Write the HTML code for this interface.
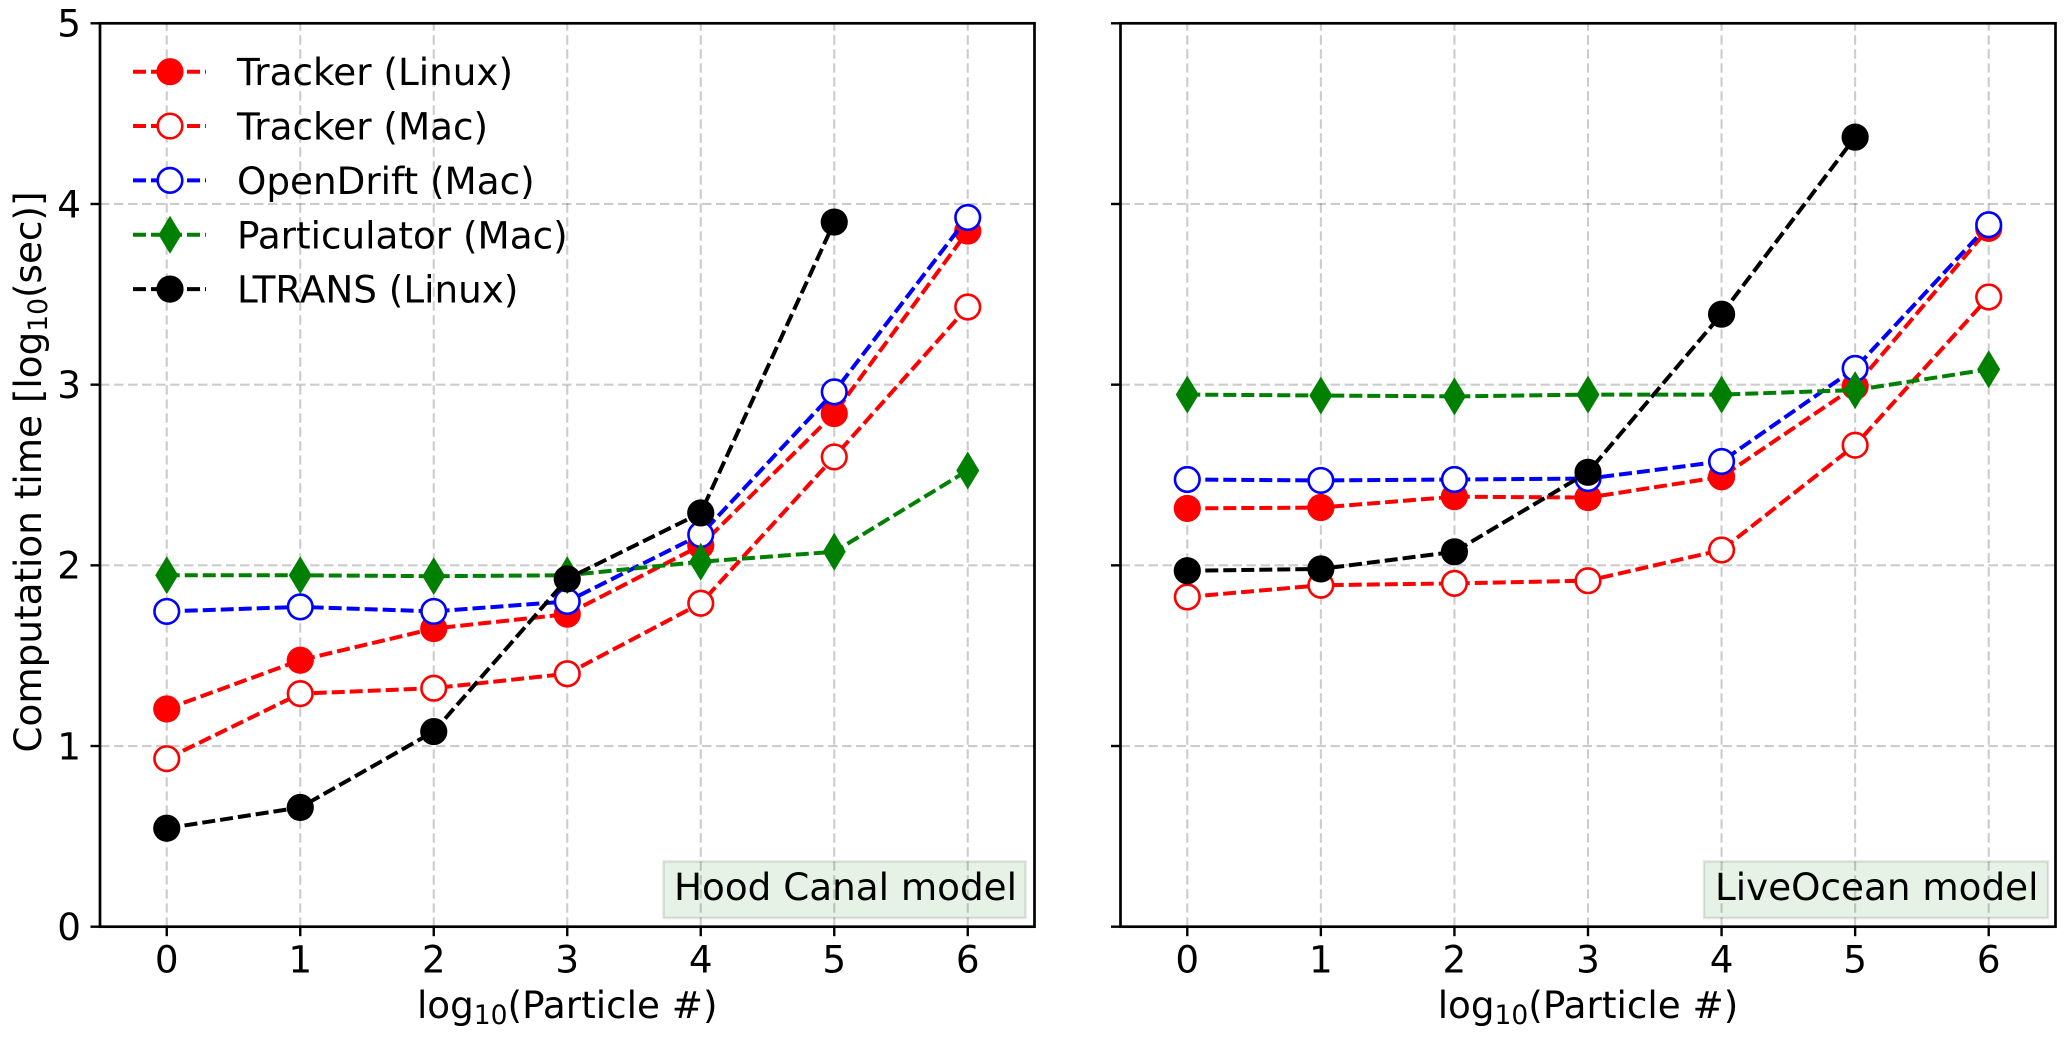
<!DOCTYPE html>
<html><head><meta charset="utf-8"><title>Computation time chart</title>
<style>
html,body{margin:0;padding:0;background:#fff}
svg{display:block}
text{font-family:"DejaVu Sans","Liberation Sans",sans-serif;fill:#000}
</style></head>
<body>
<svg id="chart" xmlns="http://www.w3.org/2000/svg" width="2067" height="1037" viewBox="0 0 2067 1037"></svg>
<script>
const xTicks = [0, 1, 2, 3, 4, 5, 6];
const yTicks = [0, 1, 2, 3, 4, 5];
const seriesNames = ['Tracker (Linux)', 'Tracker (Mac)', 'OpenDrift (Mac)', 'Particulator (Mac)', 'LTRANS (Linux)'];
const seriesKeys = ['tracker-linux', 'tracker-mac', 'opendrift-mac', 'particulator-mac', 'ltrans-linux'];
const seriesColors = ['#ff0000', '#ff0000', '#0000ff', '#008000', '#000000'];
const seriesMarkers = ['filled', 'open', 'open', 'diamond', 'filled'];
const panelTitles = ['Hood Canal model', 'LiveOcean model'];
const hoodTrackerLinux = [1.205, 1.475, 1.65, 1.73, 2.11, 2.84, 3.85];
const hoodTrackerMac = [0.93, 1.29, 1.32, 1.40, 1.79, 2.60, 3.43];
const hoodOpenDrift = [1.745, 1.77, 1.745, 1.80, 2.17, 2.96, 3.925];
const hoodParticulator = [1.945, 1.945, 1.94, 1.945, 2.02, 2.075, 2.525];
const hoodLtrans = [0.545, 0.66, 1.08, 1.925, 2.29, 3.90];
const oceanTrackerLinux = [2.315, 2.32, 2.38, 2.375, 2.49, 2.99, 3.865];
const oceanTrackerMac = [1.825, 1.89, 1.90, 1.915, 2.085, 2.665, 3.485];
const oceanOpenDrift = [2.475, 2.47, 2.475, 2.48, 2.575, 3.09, 3.885];
const oceanParticulator = [2.945, 2.94, 2.935, 2.945, 2.945, 2.97, 3.085];
const oceanLtrans = [1.97, 1.98, 2.075, 2.515, 3.39, 4.37];

const hoodSeries = [hoodTrackerLinux, hoodTrackerMac, hoodOpenDrift, hoodParticulator, hoodLtrans];
const oceanSeries = [oceanTrackerLinux, oceanTrackerMac, oceanOpenDrift, oceanParticulator, oceanLtrans];

const NS = 'http://www.w3.org/2000/svg';
const svg = document.getElementById('chart');
const FS = 37.3;
const SUB = 26.5;
const TOP = 23.3, BOTTOM = 926.7;
const LW = 4;
const DASH = '13 5';

function el(parent, tag, attrs, txt) {
  const e = document.createElementNS(NS, tag);
  for (const k in attrs) e.setAttribute(k, attrs[k]);
  if (txt !== undefined) e.textContent = txt;
  parent.appendChild(e);
  return e;
}
function yScale(v) { return BOTTOM - (v - 0) * (BOTTOM - TOP) / 5; }

function drawMarker(g, kind, color, cx, cy) {
  let m;
  if (kind === 'diamond') {
    const pts = [[cx, cy - 19], [cx + 11.5, cy], [cx, cy + 19], [cx - 11.5, cy]];
    m = el(g, 'polygon', { points: pts.map(p => p.join(',')).join(' '), fill: color });
  } else if (kind === 'open') {
    m = el(g, 'circle', { cx: cx, cy: cy, r: 12.3, fill: '#fff', stroke: color, 'stroke-width': 2.6 });
  } else {
    m = el(g, 'circle', { cx: cx, cy: cy, r: 13.6, fill: color });
  }
  return m;
}

function drawPanel(idx, left, right, seriesData, showY, box) {
  const panel = el(svg, 'g', {});
  
  
  const xScale = v => left + (v + 0.5) * (right - left) / 7;

  // grid
  const grid = el(panel, 'g', { stroke: '#000', 'stroke-opacity': 0.2, 'stroke-width': 2.1, 'stroke-dasharray': '9.5 4.5', fill: 'none' });
  
  
  xTicks.forEach(t => {
    el(grid, 'line', { x1: xScale(t), x2: xScale(t), y1: BOTTOM, y2: TOP });
  });
  yTicks.forEach(t => {
    el(grid, 'line', { x1: left, x2: right, y1: yScale(t), y2: yScale(t) });
  });

  // series
  seriesData.forEach((vals, s) => {
    const g = el(panel, 'g', {});
    
    
    const pts = vals.map((v, i) => xScale(xTicks[i]) + ',' + yScale(v)).join(' ');
    el(g, 'polyline', { points: pts, fill: 'none', stroke: seriesColors[s], 'stroke-width': LW, 'stroke-dasharray': DASH, 'stroke-linejoin': 'round' });
    vals.forEach((v, i) => {
      const m = drawMarker(g, seriesMarkers[s], seriesColors[s], xScale(xTicks[i]), yScale(v));
      
      
    });
  });

  // annotation box
  const boxG = el(panel, 'g', {});
  
  
  el(boxG, 'rect', { x: box.x, y: 861.5, width: box.w, height: 56.5, fill: '#008000', 'fill-opacity': 0.1, stroke: '#000', 'stroke-opacity': 0.1, 'stroke-width': 2.6 });
  el(boxG, 'text', { x: box.tx, y: 900, 'font-size': FS }, panelTitles[idx]);

  // spines
  const sp = el(panel, 'rect', { x: left, y: TOP, width: right - left, height: BOTTOM - TOP, fill: 'none', stroke: '#000', 'stroke-width': 2.7 });
  
  

  // ticks and tick labels
  xTicks.forEach(t => {
    const x = xScale(t);
    const tk = el(panel, 'line', { x1: x, x2: x, y1: BOTTOM, y2: BOTTOM + 9.5, stroke: '#000', 'stroke-width': 2.4 });
    
    
    const lb = el(panel, 'text', { x: x, y: 972.5, 'font-size': FS, 'text-anchor': 'middle' }, String(t));
    
    
  });
  yTicks.forEach(t => {
    const y = yScale(t);
    const tk = el(panel, 'line', { x1: left - 9.5, x2: left, y1: y, y2: y, stroke: '#000', 'stroke-width': 2.4 });
    
    
    if (showY) {
      const lb = el(panel, 'text', { x: left - 19, y: y + 13.4, 'font-size': FS, 'text-anchor': 'end' }, String(t));
      
      
    }
  });

  // x axis title
  const xt = el(panel, 'text', { x: (left + right) / 2, y: 1018, 'font-size': FS, 'text-anchor': 'middle' });
  
  
  el(xt, 'tspan', {}, 'log');
  el(xt, 'tspan', { 'font-size': SUB, dy: 6 }, '10');
  el(xt, 'tspan', { dy: -6 }, '(Particle #)');
}

drawPanel(0, 100, 1034.5, hoodSeries, true, { x: 663.5, w: 362, tx: 674 });
drawPanel(1, 1120.5, 2055.5, oceanSeries, false, { x: 1704, w: 344, tx: 1715 });

// y axis title
const yt = el(svg, 'text', { transform: 'translate(41,472) rotate(-90)', 'font-size': FS, 'text-anchor': 'middle' });


el(yt, 'tspan', {}, 'Computation time [log');
el(yt, 'tspan', { 'font-size': SUB, dy: 6 }, '10');
el(yt, 'tspan', { dy: -6 }, '(sec)]');

// legend
const legend = el(svg, 'g', {});


seriesNames.forEach((name, s) => {
  const y = 71.7 + s * 54.35;
  const g = el(legend, 'g', {});
  
  
  el(g, 'line', { x1: 133, x2: 206, y1: y, y2: y, stroke: seriesColors[s], 'stroke-width': LW, 'stroke-dasharray': DASH });
  drawMarker(g, seriesMarkers[s], seriesColors[s], 170, y);
  el(g, 'text', { x: 237, y: y + 13.5, 'font-size': FS }, name);
});
</script>
</body></html>
